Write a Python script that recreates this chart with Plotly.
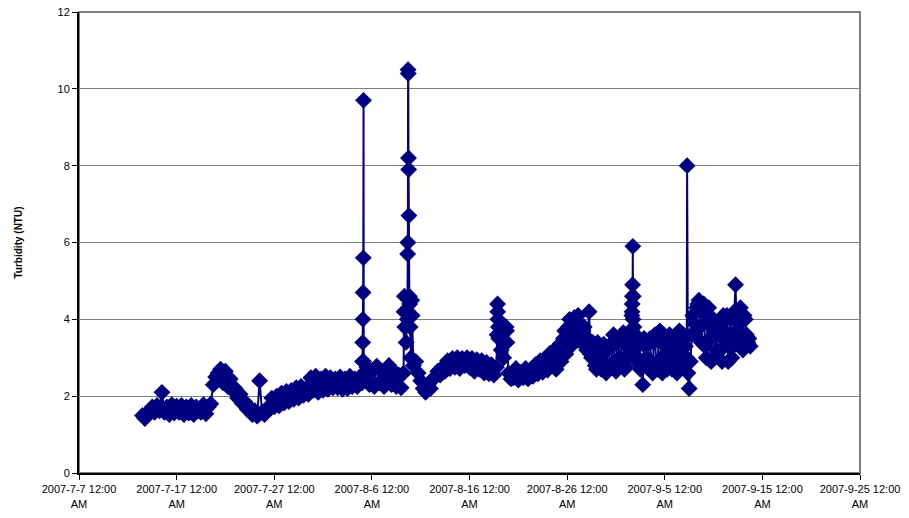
import pandas as pd
import plotly.graph_objects as go

# Base series: 6-hourly readings starting 2007-07-13 12:00 (one row per day: 12:00, 18:00, 00:00, 06:00)
base_start = "2007-07-13 12:00"
turbidity_rows = [
    [1.50, 1.42, 1.55, 1.62],  # 7-13
    [1.72, 1.58, 1.76, 1.62],  # 7-14
    [2.10, 1.58, 1.72, 1.52],  # 7-15
    [1.78, 1.56, 1.74, 1.58],  # 7-16
    [1.76, 1.52, 1.72, 1.56],  # 7-17
    [1.76, 1.52, 1.72, 1.62],  # 7-18
    [1.58, 1.78, 1.54, 1.72],  # 7-19
    [1.80, 2.30, 2.50, 2.60],  # 7-20
    [2.70, 2.35, 2.65, 2.25],  # 7-21
    [2.45, 2.15, 2.20, 1.95],  # 7-22
    [2.05, 1.80, 1.85, 1.65],  # 7-23
    [1.70, 1.52, 1.62, 1.48],  # 7-24
    [2.40, 1.58, 1.52, 1.68],  # 7-25
    [1.66, 1.95, 1.72, 2.00],  # 7-26
    [1.75, 2.08, 1.82, 2.12],  # 7-27
    [1.86, 2.15, 1.92, 2.22],  # 7-28
    [1.95, 2.25, 2.02, 2.20],  # 7-29
    [2.05, 2.48, 2.15, 2.52],  # 7-30
    [2.10, 2.45, 2.15, 2.52],  # 7-31
    [2.18, 2.48, 2.22, 2.45],  # 8-1
    [2.22, 2.50, 2.18, 2.45],  # 8-2
    [2.20, 2.52, 2.25, 2.45],  # 8-3
    [2.25, 2.50, 2.35, 2.60],  # 8-4
    [2.75, 2.30, 2.65, 2.25],  # 8-5
    [2.78, 2.35, 2.65, 2.25],  # 8-6
    [2.50, 2.80, 2.30, 2.65],  # 8-7
    [2.25, 2.55, 2.22, 2.60],  # 8-8
    [3.40, 8.20, 3.00, 2.80],  # 8-9
    [2.90, 2.60, 2.40, 2.20],  # 8-10
    [2.10, 2.30, 2.20, 2.45],  # 8-11
    [2.50, 2.65, 2.55, 2.75],  # 8-12
    [2.65, 2.92, 2.72, 2.98],  # 8-13
    [2.75, 3.00, 2.72, 2.98],  # 8-14
    [2.80, 3.00, 2.75, 2.98],  # 8-15
    [2.65, 2.95, 2.70, 2.92],  # 8-16
    [2.60, 2.88, 2.58, 2.82],  # 8-17
    [2.55, 2.75, 3.50, 3.20],  # 8-18
    [3.00, 3.80, 2.60, 2.45],  # 8-19
    [2.48, 2.72, 2.42, 2.62],  # 8-20
    [2.48, 2.72, 2.45, 2.68],  # 8-21
    [2.52, 2.82, 2.58, 2.92],  # 8-22
    [2.62, 2.98, 2.68, 3.12],  # 8-23
    [2.80, 3.20, 2.90, 3.35],  # 8-24
    [3.20, 3.70, 3.40, 4.00],  # 8-25
    [3.50, 4.05, 3.45, 3.90],  # 8-26
    [3.40, 3.80, 3.20, 4.20],  # 8-27
    [3.00, 3.30, 2.70, 3.20],  # 8-28
    [2.70, 3.35, 2.60, 3.30],  # 8-29
    [2.80, 3.60, 2.65, 3.50],  # 8-30
    [2.90, 3.65, 2.75, 3.30],  # 8-31
    [3.20, 4.00, 3.40, 3.00],  # 9-1
    [2.70, 2.30, 3.30, 2.80],  # 9-2
    [3.50, 2.60, 3.60, 2.70],  # 9-3
    [3.70, 2.60, 3.30, 2.70],  # 9-4
    [3.60, 2.70, 3.40, 2.60],  # 9-5
    [3.70, 2.80, 3.50, 3.00],  # 9-6
    [2.20, 3.60, 3.90, 4.30],  # 9-7
    [4.50, 3.40, 4.40, 3.00],  # 9-8
    [4.30, 2.90, 4.00, 3.20],  # 9-9
    [3.60, 3.20, 4.10, 3.40],  # 9-10
    [2.90, 4.00, 3.30, 4.90],  # 9-11
    [3.60, 4.30, 3.20, 4.00],  # 9-12
    [3.40, 3.30],              # 9-13
]

# Intermediate readings (15:00, 21:00, 03:00, 09:00) for the denser late-season record
dense_start = "2007-08-24 15:00"
dense_rows = [
    [3.00, 2.70, 3.30, 2.90],  # 8-24
    [3.50, 3.10, 3.80, 3.30],  # 8-25
    [3.90, 3.60, 4.10, 3.50],  # 8-26
    [3.70, 3.30, 3.50, 3.10],  # 8-27
    [3.40, 2.80, 3.40, 2.90],  # 8-28
    [3.10, 2.70, 3.20, 2.80],  # 8-29
    [3.30, 2.90, 3.40, 3.00],  # 8-30
    [3.40, 2.70, 3.60, 3.10],  # 8-31
    [4.10, 3.20, 2.90, 3.50],  # 9-1
    [2.90, 3.50, 3.00, 3.40],  # 9-2
    [2.90, 3.40, 2.80, 3.50],  # 9-3
    [3.00, 3.60, 2.90, 3.20],  # 9-4
    [3.00, 3.50, 2.80, 3.30],  # 9-5
    [3.10, 3.60, 3.30, 2.60],  # 9-6
    [2.90, 4.10, 3.60, 4.40],  # 9-7
    [3.80, 4.20, 3.30, 3.90],  # 9-8
    [3.50, 3.80, 3.00, 3.70],  # 9-9
    [3.90, 2.90, 3.70, 4.10],  # 9-10
    [3.50, 3.00, 4.20, 3.70],  # 9-11
    [3.90, 3.40, 4.10, 3.60],  # 9-12
    [3.50],                    # 9-13
]

# Additional high-frequency readings during turbidity events
event_times = [
    "2007-08-05 01:00", "2007-08-05 01:30", "2007-08-05 02:00", "2007-08-05 02:30",
    "2007-08-05 03:00", "2007-08-05 03:30", "2007-08-05 04:00",
    "2007-08-09 07:00", "2007-08-09 08:00", "2007-08-09 09:00", "2007-08-09 15:00",
    "2007-08-09 16:00", "2007-08-09 16:30", "2007-08-09 17:00", "2007-08-09 17:30",
    "2007-08-09 18:30", "2007-08-09 19:00", "2007-08-09 20:00", "2007-08-09 21:00",
    "2007-08-09 22:00", "2007-08-10 02:00", "2007-08-10 03:00",
    "2007-08-18 20:00", "2007-08-18 21:00", "2007-08-18 21:30", "2007-08-18 22:00",
    "2007-08-18 23:00", "2007-08-19 19:00", "2007-08-19 20:00",
    "2007-09-01 14:00", "2007-09-01 15:30", "2007-09-01 16:00", "2007-09-01 16:30",
    "2007-09-01 17:00", "2007-09-01 17:30", "2007-09-01 18:30", "2007-09-01 20:00",
    "2007-09-07 07:00",
]
event_values = [
    2.9, 3.4, 4.0, 4.7,
    5.6, 9.7, 2.9,
    4.2, 4.6, 3.8, 4.0,
    5.7, 6.0, 10.5, 10.4,
    7.9, 6.7, 4.6, 4.4,
    3.8, 4.5, 4.1,
    3.6, 4.4, 4.2, 4.0,
    3.8, 3.7, 3.4,
    3.7, 4.2, 4.4, 4.6,
    4.9, 5.9, 4.6, 3.8,
    8.0,
]

tick_dates = ["2007-07-07", "2007-07-17", "2007-07-27", "2007-08-06", "2007-08-16",
              "2007-08-26", "2007-09-05", "2007-09-15", "2007-09-25"]
tick_labels = ["2007-7-7 12:00<br>AM", "2007-7-17 12:00<br>AM", "2007-7-27 12:00<br>AM",
               "2007-8-6 12:00<br>AM", "2007-8-16 12:00<br>AM", "2007-8-26 12:00<br>AM",
               "2007-9-5 12:00<br>AM", "2007-9-15 12:00<br>AM", "2007-9-25 12:00<br>AM"]

base_values = [v for row in turbidity_rows for v in row]
dense_values = [v for row in dense_rows for v in row]
df = pd.concat([
    pd.DataFrame({"t": pd.date_range(base_start, periods=len(base_values), freq="6h"), "v": base_values}),
    pd.DataFrame({"t": pd.date_range(dense_start, periods=len(dense_values), freq="6h"), "v": dense_values}),
    pd.DataFrame({"t": pd.to_datetime(event_times), "v": event_values}),
]).sort_values("t", kind="stable")

navy = "#000080"
fig = go.Figure(go.Scatter(
    x=df["t"], y=df["v"], mode="lines+markers",
    line=dict(color=navy, width=2),
    marker=dict(symbol="diamond", size=13, color=navy, line=dict(width=0)),
    showlegend=False,
))

font = dict(family="Liberation Sans, Arial, sans-serif", size=11, color="black")
fig.update_layout(
    width=909, height=518,
    margin=dict(l=79, r=49, t=12, b=45, autoexpand=False),
    paper_bgcolor="white", plot_bgcolor="white",
    font=font,
    xaxis=dict(
        type="date", range=["2007-07-07", "2007-09-25"], automargin=False,
        tickmode="array", tickvals=tick_dates, ticktext=tick_labels,
        ticks="outside", ticklen=5, tickcolor="black", tickwidth=1,
        showline=True, linecolor="black", linewidth=2,
        showgrid=False, zeroline=False, tickangle=0, ticklabeloverflow="allow",
    ),
    yaxis=dict(
        range=[0, 12], dtick=2, tick0=0, automargin=False,
        ticks="outside", ticklen=5, tickcolor="black", tickwidth=1,
        showline=True, linecolor="black", linewidth=2,
        showgrid=True, gridcolor="#808080", gridwidth=1, zeroline=False,
        ticklabeloverflow="allow",
    ),
    shapes=[dict(type="rect", xref="paper", yref="paper", x0=0, y0=0, x1=1, y1=1,
                 line=dict(color="#808080", width=2), layer="below")],
    annotations=[dict(text="<b>Turbidity (NTU)</b>", xref="paper", yref="paper",
                      x=0, y=0.5, xanchor="center", yanchor="middle", xshift=-61,
                      textangle=-90, showarrow=False,
                      font=dict(family="Liberation Sans, Arial, sans-serif", size=10, color="black"))],
)

fig.write_html("out.html", config={"displayModeBar": False},
               post_script="document.body.style.margin='0';")
